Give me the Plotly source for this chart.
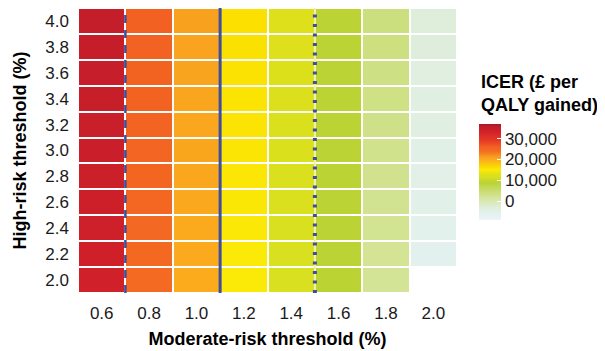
import plotly.graph_objects as go

# Data
moderate = [0.6, 0.8, 1.0, 1.2, 1.4, 1.6, 1.8, 2.0]
high = [2.0, 2.2, 2.4, 2.6, 2.8, 3.0, 3.2, 3.4, 3.6, 3.8, 4.0]

# ICER (£ per QALY gained), rows = high-risk threshold 2.0 .. 4.0
icer_h20 = [33500, 24400, 19900, 15000, 11500, 9100, 2000, None]
icer_h22 = [33700, 24600, 20000, 15100, 11600, 9000, 2200, -6000]
icer_h24 = [34000, 24800, 20100, 15200, 11700, 9000, 2400, -5700]
icer_h26 = [34200, 24900, 20200, 15300, 11800, 9000, 2600, -5400]
icer_h28 = [34400, 25100, 20300, 15400, 11900, 9000, 2800, -5100]
icer_h30 = [34500, 25300, 20400, 15500, 12000, 9000, 3000, -4800]
icer_h32 = [34800, 25400, 20500, 15600, 12100, 9000, 3200, -4400]
icer_h34 = [35000, 25600, 20600, 15700, 12200, 9000, 3400, -4000]
icer_h36 = [35100, 25700, 20700, 15800, 12300, 9000, 3600, -3700]
icer_h38 = [35300, 25900, 20800, 15900, 12400, 9000, 3800, -3300]
icer_h40 = [35500, 26000, 21000, 16000, 12500, 9000, 4000, -3000]
icer = [icer_h20, icer_h22, icer_h24, icer_h26, icer_h28, icer_h30,
        icer_h32, icer_h34, icer_h36, icer_h38, icer_h40]

cbar_ticks = [0, 10000, 20000, 30000]
zmin, zmax = -9000, 37000

# Reference thresholds (vertical lines)
dashed_line = 0.7
solid_line = 1.1
dotted_line = 1.5

stops = [
    (-9000, "#EAF5F8"), (-6000, "#E3F1EE"), (-3000, "#DFEEDA"),
    (2000, "#D4E497"), (4000, "#CBDF7E"), (9000, "#BBD334"),
    (11500, "#D8E020"), (12500, "#DDE01A"), (15000, "#FBEA08"),
    (16000, "#FBE000"), (20000, "#FBAA1D"), (21000, "#F8A11E"),
    (24000, "#F46C22"), (26000, "#F26122"), (29000, "#E63A26"),
    (33500, "#D0202A"), (35500, "#C41E2A"), (37000, "#A31B22"),
]
colorscale = [[(v - zmin) / (zmax - zmin), c] for v, c in stops]

FONT = "Liberation Sans, Arial, Helvetica, sans-serif"
BLUE = "#3D4EA0"

# page offset (browser body margin) and plot area in screen pixels
OFF = 8
W, H = 605 - OFF, 351 - OFF
L, R, T, B = 78 - OFF, 457 - OFF, 8 - OFF, 293 - OFF

def px_x(p):
    return (p - OFF - L) / (R - L)

def px_y(p):
    return 1 - (p - OFF - T) / (B - T)

fig = go.Figure()
fig.add_trace(go.Heatmap(
    x=moderate, y=high, z=icer,
    zmin=zmin, zmax=zmax, colorscale=colorscale,
    xgap=2, ygap=2, hoverongaps=False,
    colorbar=dict(
        x=px_x(479), xanchor="left", xpad=0,
        y=px_y(172), yanchor="middle", ypad=0,
        len=96, lenmode="pixels", thickness=22,
        outlinewidth=0,
        tickvals=cbar_ticks, tickformat=",",
        ticks="inside", ticklen=4, tickcolor="white", tickwidth=1,
        tickfont=dict(family=FONT, size=17, color="#1a1a1a"),
    ),
))

# vertical reference lines
fig.add_shape(type="line", xref="x", yref="paper", x0=dashed_line, x1=dashed_line,
              y0=0, y1=1, line=dict(color=BLUE, width=2.5, dash="8px,7px"))
fig.add_shape(type="line", xref="x", yref="paper", x0=solid_line, x1=solid_line,
              y0=0, y1=1, line=dict(color=BLUE, width=3))
fig.add_shape(type="line", xref="x", yref="paper", x0=dotted_line, x1=dotted_line,
              y0=0, y1=1, line=dict(color="#F3F0A0", width=2))
fig.add_shape(type="line", xref="x", yref="paper", x0=dotted_line, x1=dotted_line,
              y0=0, y1=1, line=dict(color=BLUE, width=4, dash="3px,6.5px"))

fig.add_annotation(
    text="<b>ICER (£ per<br>QALY gained)</b>",
    xref="paper", yref="paper",
    x=px_x(479), xanchor="left",
    y=px_y(70), yanchor="top",
    showarrow=False, align="left",
    font=dict(family=FONT, size=18, color="black"),
)

fig.update_layout(
    width=W, height=H,
    margin=dict(l=L, r=W - R, t=T, b=H - B),
    paper_bgcolor="white", plot_bgcolor="white",
    font=dict(family=FONT, color="#1a1a1a"),
    xaxis=dict(
        range=[0.5, 2.1], tickvals=moderate, tickformat=".1f",
        showgrid=False, zeroline=False, showline=False, ticks="",
        automargin=False, ticklabelstandoff=8,
        tickfont=dict(family=FONT, size=17, color="#1a1a1a"),
        title=dict(text="<b>Moderate-risk threshold (%)</b>", standoff=10,
                   font=dict(family=FONT, size=18, color="black")),
    ),
    yaxis=dict(
        range=[1.9, 4.1], tickvals=high, tickformat=".1f",
        showgrid=False, zeroline=False, showline=False, ticks="",
        automargin=False, ticklabelstandoff=8,
        tickfont=dict(family=FONT, size=17, color="#1a1a1a"),
        title=dict(text="<b>High-risk threshold (%)</b>", standoff=14,
                   font=dict(family=FONT, size=18, color="black")),
    ),
)

fig.write_html("out.html")
